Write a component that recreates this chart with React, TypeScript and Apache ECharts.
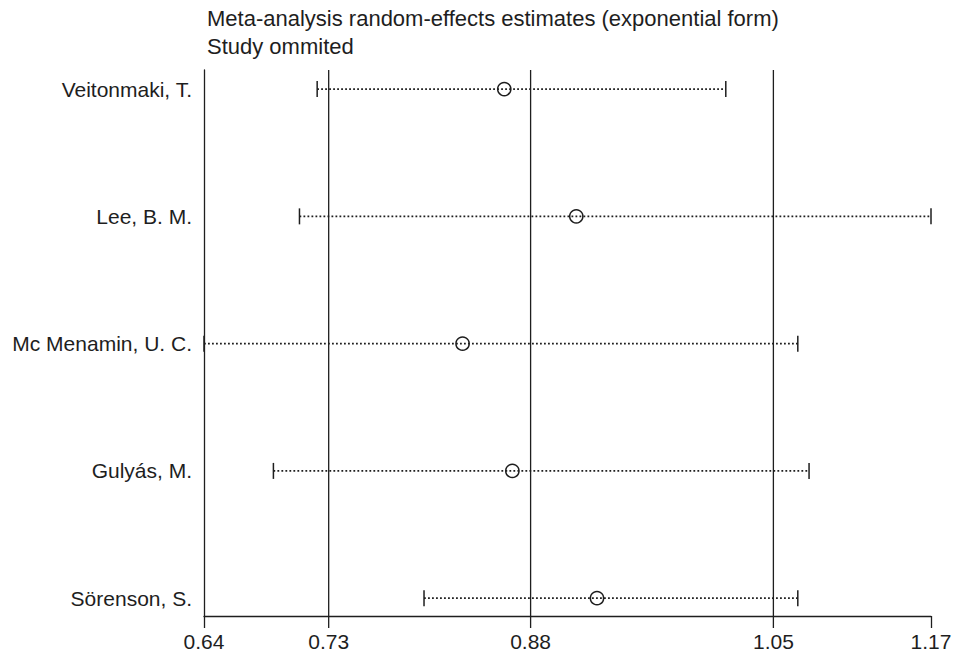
import React, { useEffect, useRef } from "react";
import * as echarts from "echarts";

const studies = ["Veitonmaki, T.", "Lee, B. M.", "Mc Menamin, U. C.", "Gulyás, M.", "Sörenson, S."];
const estimates = [0.8589, 0.9114, 0.8285, 0.8648, 0.9265];
const lowerCI = [0.7225, 0.7096, 0.64, 0.6906, 0.8004];
const upperCI = [1.0204, 1.17, 1.0729, 1.0811, 1.0729];
// overall estimate: lower CI, estimate, upper CI (vertical reference lines)
const overallLines = [0.7309, 0.8781, 1.0551];
const overallLabels = ["0.73", "0.88", "1.05"];
// axis ends
const edgeTicks = [0.64, 1.17];
const edgeLabels = ["0.64", "1.17"];
const titleLines = ["Meta-analysis random-effects estimates (exponential form)", "Study ommited"];

const X_MIN = 0.64;
const X_MAX = 1.17;
const Y_MIN = 0.85;
const Y_MAX = 5.14;

const FONT = "'Liberation Sans', Arial, Helvetica, sans-serif";
const INK = "#1e1e1e";
const TICK_LEN = 12;
const LABEL_GAP = 15;

export default function App() {
  const ref = useRef<HTMLDivElement>(null);
  useEffect(() => {
    if (!ref.current) return;
    const chart = echarts.init(ref.current, null, { renderer: "svg" });
    const data = studies.map((_, i) => [i + 1, lowerCI[i], estimates[i], upperCI[i]]);
    chart.setOption({
      animation: false,
      backgroundColor: "#ffffff",
      title: {
        text: titleLines.join("\n"),
        left: 207,
        top: 4,
        padding: 0,
        textStyle: { fontFamily: FONT, fontSize: 22, fontWeight: "normal", color: INK, lineHeight: 28 },
      },
      grid: { left: 204, right: 27, top: 70, bottom: 32, containLabel: false },
      xAxis: {
        type: "value",
        min: X_MIN,
        max: X_MAX,
        axisLine: { show: true, lineStyle: { color: INK, width: 1.3 } },
        axisTick: { show: true, length: TICK_LEN, customValues: edgeTicks, lineStyle: { color: INK, width: 1.3 } },
        axisLabel: {
          customValues: edgeTicks,
          formatter: (v: number) => {
            const i = edgeTicks.findIndex((t) => Math.abs(t - v) < 1e-6);
            return i >= 0 ? edgeLabels[i] : "";
          },
          fontFamily: FONT,
          fontSize: 21,
          color: INK,
          margin: LABEL_GAP,
          showMinLabel: true,
          showMaxLabel: true,
        },
        splitLine: { show: false },
      },
      yAxis: {
        type: "value",
        min: Y_MIN,
        max: Y_MAX,
        inverse: true,
        axisLine: { show: true, lineStyle: { color: INK, width: 1.3 } },
        axisTick: { show: false },
        splitLine: { show: false },
        axisLabel: {
          customValues: [1, 2, 3, 4, 5],
          formatter: (v: number) => studies[Math.round(v) - 1] ?? "",
          fontFamily: FONT,
          fontSize: 21,
          color: INK,
          margin: 12,
        },
      },
      series: [
        {
          type: "custom",
          data: overallLines.map((v, i) => [v, i]),
          encode: { x: 0 },
          silent: true,
          renderItem: (params: any, api: any) => {
            const v = api.value(0);
            const idx = api.value(1);
            const top = api.coord([v, Y_MIN]);
            const bot = api.coord([v, Y_MAX]);
            return {
              type: "group",
              children: [
                {
                  type: "line",
                  shape: { x1: top[0], y1: top[1], x2: bot[0], y2: bot[1] + TICK_LEN },
                  style: { stroke: INK, lineWidth: 1.3 },
                },
                {
                  type: "text",
                  x: bot[0],
                  y: bot[1] + LABEL_GAP,
                  style: {
                    text: overallLabels[idx],
                    fill: INK,
                    font: `21px ${FONT}`,
                    align: "center",
                    verticalAlign: "top",
                  },
                },
              ],
            };
          },
        },
        {
          type: "custom",
          data,
          encode: { x: [1, 2, 3], y: 0 },
          renderItem: (params: any, api: any) => {
            const y = api.value(0);
            const lo = api.coord([api.value(1), y]);
            const es = api.coord([api.value(2), y]);
            const hi = api.coord([api.value(3), y]);
            const capH = 8;
            const solid = { stroke: INK, lineWidth: 1.5 };
            return {
              type: "group",
              children: [
                {
                  type: "line",
                  shape: { x1: lo[0], y1: lo[1], x2: hi[0], y2: hi[1] },
                  style: { stroke: INK, lineWidth: 1.8, lineDash: [1.8, 2.2] },
                },
                {
                  type: "line",
                  shape: { x1: lo[0], y1: lo[1] - capH, x2: lo[0], y2: lo[1] + capH },
                  style: solid,
                },
                {
                  type: "line",
                  shape: { x1: hi[0], y1: hi[1] - capH, x2: hi[0], y2: hi[1] + capH },
                  style: solid,
                },
                {
                  type: "circle",
                  shape: { cx: es[0], cy: es[1], r: 6.6 },
                  style: { fill: "none", stroke: INK, lineWidth: 1.5 },
                },
              ],
            };
          },
        },
      ],
    });
    return () => chart.dispose();
  }, []);
  return (
    <div
      ref={ref}
      style={{ position: "absolute", left: 0, top: 0, width: 958, height: 652, background: "#fff" }}
    />
  );
}
